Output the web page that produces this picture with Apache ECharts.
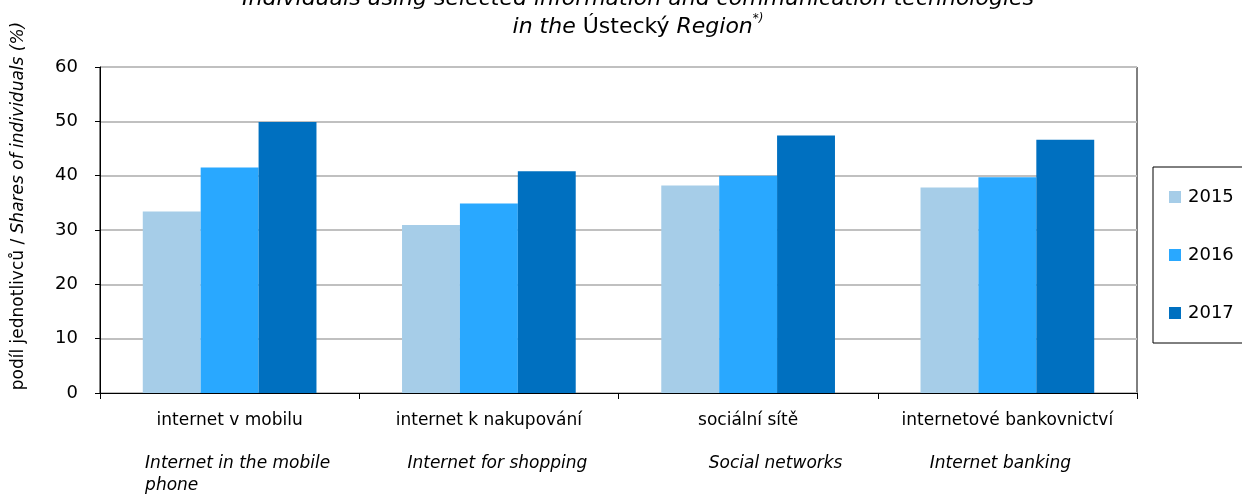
<!DOCTYPE html>
<html><head><meta charset="utf-8">
<script src="https://cdn.jsdelivr.net/npm/echarts@6/dist/echarts.min.js"></script>
<style>html,body{margin:0;padding:0;background:#fff}#c{width:1242px;height:498px}</style>
</head><body><div id="c"></div>
<script>
const categoriesCz = ['internet v mobilu', 'internet k nakupování', 'sociální sítě', 'internetové bankovnictví'];
const categoriesEn = ['Internet in the mobile\nphone', 'Internet for shopping', 'Social networks', 'Internet banking'];
const seriesNames = ['2015', '2016', '2017'];
const values2015 = [33.4, 30.9, 38.2, 37.8];
const values2016 = [41.5, 34.9, 40.0, 39.7];
const values2017 = [49.9, 40.8, 47.4, 46.6];
const yTicks = [0, 10, 20, 30, 40, 50, 60];

const FONT = '"DejaVu Sans", "Liberation Sans", Arial, sans-serif';
const colors = ['#A6CDE8', '#29A8FF', '#0070C0'];

const enStyle = (pad, align) => ({ fontFamily: FONT, fontSize: 17, fontStyle: 'italic', fontWeight: 'normal', color: '#000', lineHeight: 22, padding: pad, align: align });

const chart = echarts.init(document.getElementById('c'));
chart.setOption({
  animation: false,
  textStyle: { fontFamily: FONT },
  title: {
    left: 633, top: -20, textAlign: 'center',
    text: '{i|Individuals using selected information and communication technologies}\n{i|in the }{n|Ústecký}{i| Region}{s|*)}',
    textStyle: {
      fontWeight: 'normal',
      rich: {
        i: { fontFamily: FONT, fontSize: 22, fontStyle: 'italic', fontWeight: 'normal', color: '#000', lineHeight: 28 },
        n: { fontFamily: FONT, fontSize: 22, fontWeight: 'normal', color: '#000', lineHeight: 28 },
        s: { fontFamily: FONT, fontSize: 12, fontStyle: 'italic', fontWeight: 'normal', color: '#000', verticalAlign: 'top', lineHeight: 28, padding: [0, 0, 10, 0] }
      }
    }
  },
  legend: {
    orient: 'vertical', left: 1153, top: 167,
    data: seriesNames,
    icon: 'rect', itemWidth: 12, itemHeight: 12, itemGap: 38,
    padding: [20, 60, 20, 16],
    backgroundColor: '#fff', borderColor: '#000', borderWidth: 1,
    textStyle: { fontFamily: FONT, fontSize: 18, color: '#000', lineHeight: 20, padding: [0, 0, 0, 2] }
  },
  grid: { left: 100, right: 105, top: 67, bottom: 105, show: true, borderColor: '#000', borderWidth: 1, backgroundColor: 'transparent' },
  xAxis: [{
    type: 'category', data: categoriesCz,
    axisLine: { lineStyle: { color: '#000', width: 1 } },
    axisTick: { show: true, interval: 0, length: 6, lineStyle: { color: '#000' } },
    axisLabel: { interval: 0, fontFamily: FONT, fontSize: 17, color: '#000', margin: 19 },
    splitLine: { show: false }
  }, {
    type: 'category', data: categoriesEn, position: 'bottom', offset: 52,
    axisLine: { show: false }, axisTick: { show: false },
    axisLabel: {
      interval: 0,
      margin: 8,
      formatter: function (v, idx) {
        return v.split('\n').map(l => '{e' + idx + '|' + l + '}').join('\n');
      },
      rich: {
        e0: enStyle([0, 0, 0, 16], 'left'),
        e1: enStyle([0, 0, 0, 17], 'center'),
        e2: enStyle([0, 0, 0, 55], 'center'),
        e3: enStyle([0, 14, 0, 0], 'center')
      }
    }
  }],
  yAxis: {
    type: 'value', min: 0, max: 60, interval: 10,
    name: '{n|podíl jednotlivců / }{i|Shares of individuals (%)}',
    nameLocation: 'middle', nameGap: 73, nameRotate: 90,
    nameTextStyle: {
      padding: [0, 0, 0, 48],
      rich: {
        n: { fontFamily: FONT, fontSize: 17, color: '#000' },
        i: { fontFamily: FONT, fontSize: 17, fontStyle: 'italic', color: '#000' }
      }
    },
    axisLine: { show: true, lineStyle: { color: '#000', width: 1 } },
    axisTick: { show: true, length: 5, lineStyle: { color: '#000' } },
    axisLabel: { fontFamily: FONT, fontSize: 18, color: '#000', margin: 22, formatter: v => yTicks.includes(v) ? String(v) : '' },
    splitLine: { show: true, lineStyle: { color: '#C0C0C0', width: 2 } }
  },
  series: [
    { name: seriesNames[0], type: 'bar', data: values2015, itemStyle: { color: colors[0] }, barGap: '0%', barCategoryGap: '33%' },
    { name: seriesNames[1], type: 'bar', data: values2016, itemStyle: { color: colors[1] }, barGap: '0%', barCategoryGap: '33%' },
    { name: seriesNames[2], type: 'bar', data: values2017, itemStyle: { color: colors[2] }, barGap: '0%', barCategoryGap: '33%' }
  ]
});
</script></body></html>
